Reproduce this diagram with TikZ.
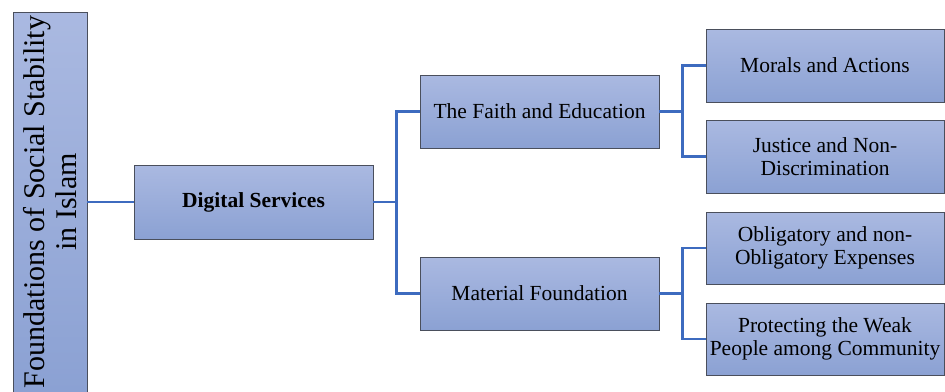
\documentclass[tikz,border=0pt]{standalone}
\usepackage{fontspec}
\setmainfont{Liberation Serif}
\definecolor{boxtop}{HTML}{AAB9E1}
\definecolor{boxbot}{HTML}{8BA1D3}
\definecolor{boxline}{HTML}{4A4F5C}
\definecolor{connblue}{HTML}{3D6BBF}
\newcommand\boxfont{\fontsize{21.5}{23.7}\selectfont}
\newcommand\bigfont{\fontsize{30}{32.5}\selectfont}
\tikzset{
  diagbox/.style={draw=boxline, line width=0.8pt, top color=boxtop, bottom color=boxbot,
    inner sep=0pt, align=center, font=\boxfont, text=black},
  conn/.style={draw=connblue, line width=2.6pt},
}
\begin{document}
\begin{tikzpicture}[x=1pt,y=-1pt]
\useasboundingbox (0,0) rectangle (945,391);
\fill[white] (0,0) rectangle (945,391);
% left tall box
\node[diagbox, minimum width=74pt, minimum height=380pt] (L) at (50,202) {};
\node[rotate=90, align=center, font=\bigfont, inner sep=0pt] (Ltext) at (L.center) {Foundations of Social Stability\\in Islam};
% level 1
\node[diagbox, minimum width=239pt, minimum height=74pt, font=\boxfont\bfseries] (DS) at (253.5,202) {Digital Services};
% level 2
\node[diagbox, minimum width=239pt, minimum height=73pt] (F) at (539.5,111.5) {The Faith and Education};
\node[diagbox, minimum width=239pt, minimum height=73pt] (M) at (539.5,293.5) {Material Foundation};
% level 3
\node[diagbox, minimum width=238pt, minimum height=73pt] (A) at (825,65.5) {Morals and Actions};
\node[diagbox, minimum width=238pt, minimum height=73pt] (J) at (825,156.5) {Justice and Non-\\Discrimination};
\node[diagbox, minimum width=238pt, minimum height=72pt] (O) at (825,248) {Obligatory and non-\\Obligatory Expenses};
\node[diagbox, minimum width=238pt, minimum height=72pt] (P) at (825,339) {Protecting the Weak\\People among Community};
% connectors
\draw[conn] (L.east) -- (DS.west);
\draw[conn] (DS.east) -- ++(23,0) |- (F.west);
\draw[conn] (DS.east) -- ++(23,0) |- (M.west);
\draw[conn] (F.east) -- ++(23,0) |- (A.west);
\draw[conn] (F.east) -- ++(23,0) |- (J.west);
\draw[conn] (M.east) -- ++(23,0) |- (O.west);
\draw[conn] (M.east) -- ++(23,0) |- (P.west);
\end{tikzpicture}
\end{document}
